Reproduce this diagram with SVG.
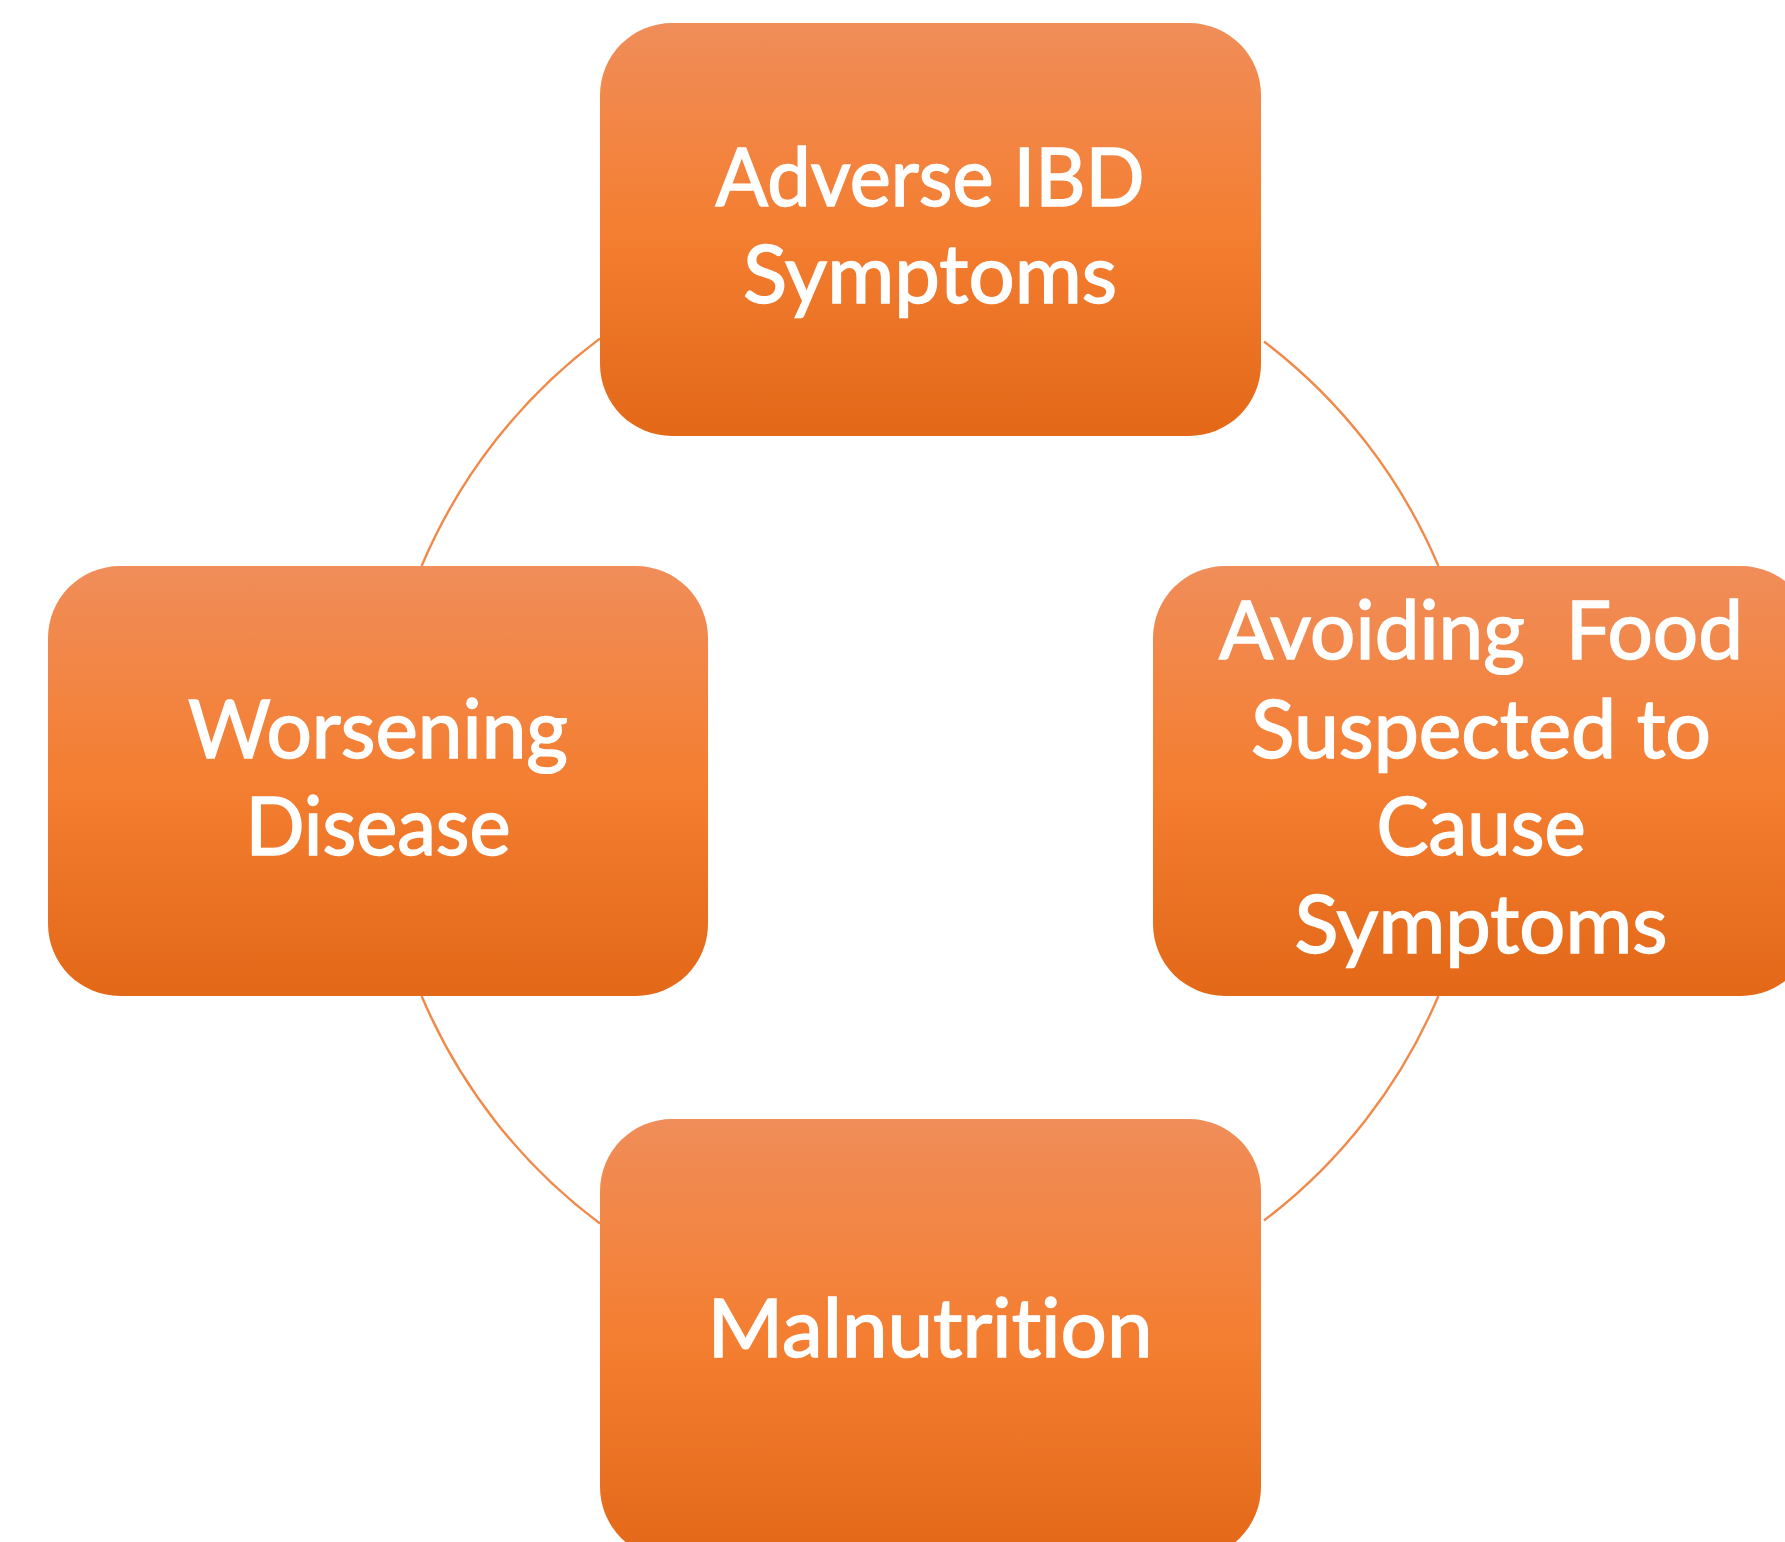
<svg xmlns="http://www.w3.org/2000/svg" width="1785" height="1542" viewBox="0 0 1785 1542">
  <defs>
    <linearGradient id="boxGrad" x1="0" y1="0" x2="0" y2="1">
      <stop offset="0" stop-color="#F08D59"/>
      <stop offset="0.5" stop-color="#F47E31"/>
      <stop offset="1" stop-color="#E36818"/>
    </linearGradient>
  </defs>
  <style>
    .box { fill: url(#boxGrad); }
    .label { font-family: Lato, "Open Sans", "Liberation Sans", sans-serif; font-size: 82px; fill: #FFFFFF; stroke: #FFFFFF; stroke-width: 1.6; text-anchor: middle; font-variant-ligatures: none; }
    .arc { fill: none; stroke: #F08A4B; stroke-width: 2.4; }
  </style>
  <rect width="1785" height="1542" fill="#FFFFFF"/>
  <g id="connectors">
    <path class="arc" d="M 600 338.5 A 552 552 0 0 0 421.6 566"/>
    <path class="arc" d="M 1264 341.5 A 552 552 0 0 1 1438.4 566"/>
    <path class="arc" d="M 1438.4 996 A 552 552 0 0 1 1264 1220.5"/>
    <path class="arc" d="M 600 1223.5 A 552 552 0 0 1 421.6 996"/>
  </g>
  <g id="node-adverse">
    <rect class="box" x="600" y="23" width="661" height="413" rx="72" ry="72"/>
    <text class="label" x="930" y="206" textLength="429" lengthAdjust="spacingAndGlyphs">Adverse IBD</text>
    <text class="label" x="930" y="303" textLength="374" lengthAdjust="spacingAndGlyphs">Symptoms</text>
  </g>
  <g id="node-avoiding">
    <rect class="box" x="1153" y="566" width="660" height="430" rx="72" ry="72"/>
    <text class="label" x="1481" y="659" xml:space="preserve" textLength="524" lengthAdjust="spacingAndGlyphs">Avoiding  Food</text>
    <text class="label" x="1481" y="758" textLength="460" lengthAdjust="spacingAndGlyphs">Suspected to</text>
    <text class="label" x="1481" y="855" textLength="209" lengthAdjust="spacingAndGlyphs">Cause</text>
    <text class="label" x="1481" y="953" textLength="373" lengthAdjust="spacingAndGlyphs">Symptoms</text>
  </g>
  <g id="node-malnutrition">
    <rect class="box" x="600" y="1119" width="661" height="440" rx="72" ry="72"/>
    <text class="label" x="930" y="1357" textLength="445" lengthAdjust="spacingAndGlyphs">Malnutrition</text>
  </g>
  <g id="node-worsening">
    <rect class="box" x="48" y="566" width="660" height="430" rx="72" ry="72"/>
    <text class="label" x="378" y="758" textLength="380" lengthAdjust="spacingAndGlyphs">Worsening</text>
    <text class="label" x="378" y="855" textLength="265" lengthAdjust="spacingAndGlyphs">Disease</text>
  </g>
</svg>
